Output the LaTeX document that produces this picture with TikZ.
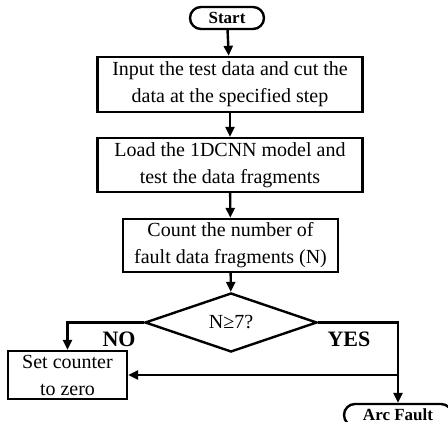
\documentclass[tikz,border=0pt]{standalone}
\usepackage{fontspec}
\setmainfont{Liberation Serif}
\usetikzlibrary{shapes.geometric,arrows.meta}
\begin{document}
\begin{tikzpicture}[x=1pt,y=-1pt,line width=2.4pt,
  >={Triangle[length=10pt,width=9pt]},
  every node/.style={font=\fontsize{20}{27}\selectfont},
  procbox/.style={draw,rectangle,align=center,inner sep=2pt},
  termbox/.style={draw,rectangle,rounded corners=11pt,font=\fontsize{17}{20}\selectfont\bfseries,inner sep=0pt},
  answer/.style={font=\fontsize{22}{26}\selectfont\bfseries}]
\useasboundingbox (0,0) rectangle (448,422);
\node[termbox,minimum width=74pt,minimum height=22pt] (start) at (227,18) {Start};
\node[procbox,minimum width=265pt,minimum height=55pt] (input) at (230,84.5) {Input the test data and cut the\\data at the specified step};
\node[procbox,minimum width=265pt,minimum height=54pt] (load) at (230,165) {Load the 1DCNN model and\\test the data fragments};
\node[procbox,minimum width=215pt,minimum height=53pt] (count) at (230.5,245.5) {Count the number of\\fault data fragments (N)};
\node[draw,diamond,minimum width=172pt,minimum height=59pt,inner sep=0pt] (check) at (231,322.5) {N≥7?};
\node[procbox,minimum width=119pt,minimum height=48pt] (reset) at (67.5,375) {Set counter\\to zero};
\node[termbox,minimum width=108pt,minimum height=22pt] (fault) at (398,415) {Arc Fault};
\node[answer] (no) at (119,339) {NO};
\node[answer] (yes) at (349,339) {YES};

\draw[->] (start) -- (input);
\draw[->] (input) -- (load);
\draw[->] (load) -- (count);
\draw[->] (count) -- (check);
\draw[->] (check.west) -| (reset.north);
\draw[->] (check.east) -| (fault.north);
\coordinate (back) at (fault.north |- reset.east);
\draw[->] (back) -- (reset.east);
\end{tikzpicture}
\end{document}
